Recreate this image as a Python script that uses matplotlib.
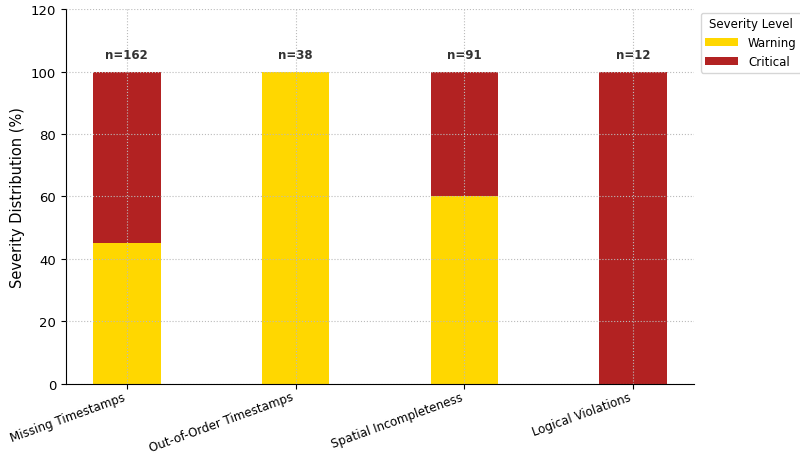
import matplotlib.pyplot as plt
import numpy as np

categories = ['Missing Timestamps', 'Out-of-Order Timestamps',
              'Spatial Incompleteness', 'Logical Violations']
warning_pct = [45, 100, 60, 0]
critical_pct = [55, 0, 40, 100]
counts = [162, 38, 91, 12]

fig = plt.figure(figsize=(8, 4.56), dpi=100)
ax = fig.add_axes([0.0825, 0.156, 0.785, 0.822])

x = np.arange(len(categories))
ax.bar(x, warning_pct, width=0.4, color='#FFD700', label='Warning')
ax.bar(x, critical_pct, width=0.4, bottom=warning_pct, color='#B22222', label='Critical')

for xi, n in zip(x, counts):
    ax.text(xi, 105.5, 'n=%d' % n, ha='center', va='center', fontsize=8.5, fontweight='bold', color='#333333')

ax.set_ylim(0, 120)
ax.set_xlim(-0.36, 3.36)
ax.set_ylabel('Severity Distribution (%)', fontsize=10.5)
ax.set_xticks(x)
ax.set_xticklabels(categories, rotation=20, ha='right', fontsize=8.6)
ax.tick_params(axis='x', pad=1)
ax.tick_params(axis='y', labelsize=9.5)
ax.grid(True, linestyle=':', color='#bbbbbb', linewidth=0.8)
ax.set_axisbelow(False)
ax.spines['top'].set_visible(False)
ax.spines['right'].set_visible(False)
ax.legend(title='Severity Level', loc='upper left', bbox_to_anchor=(1.005, 1.0), fontsize=8.5, title_fontsize=8.5,
          borderaxespad=0.3, handlelength=2.8)

fig.savefig('out.png', dpi=100)
